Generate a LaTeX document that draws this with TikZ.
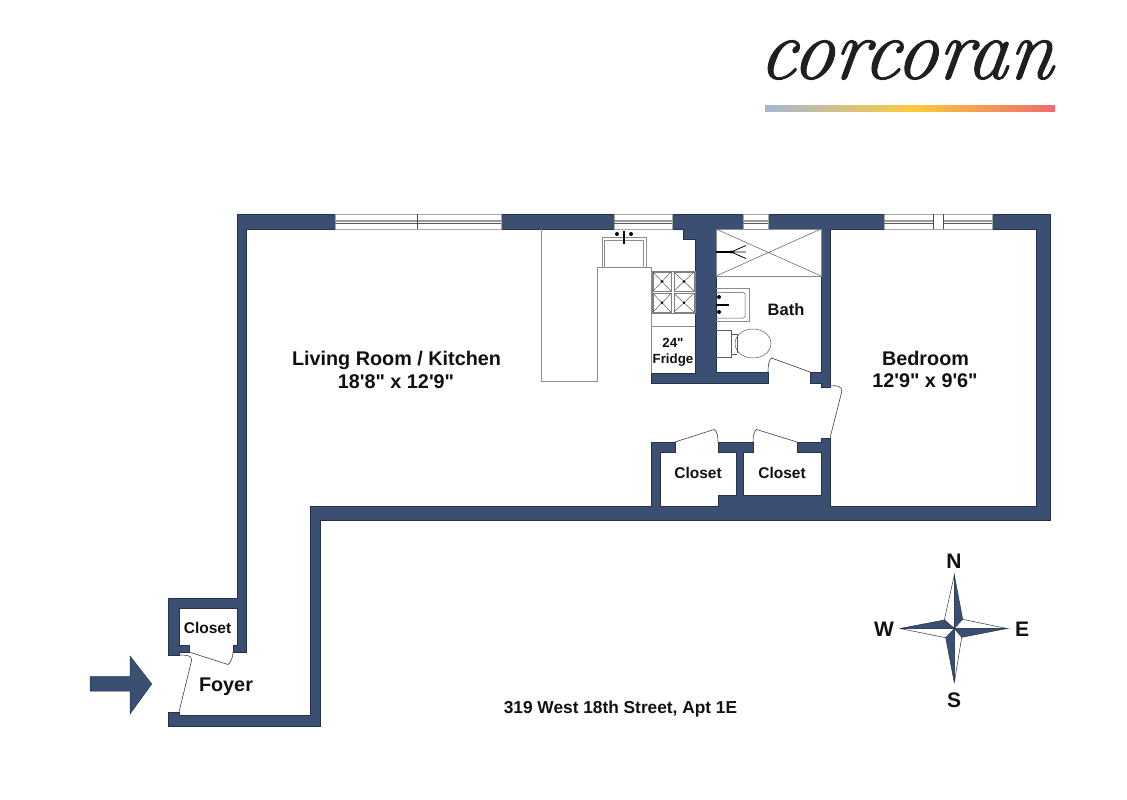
\documentclass[tikz,border=0pt]{standalone}
\usepackage{fontspec}
\setmainfont{Liberation Sans}[Ligatures=TeXOff]
\newfontfamily\logofont{Latin Modern Roman}[ItalicFeatures={FakeBold=1.2}]
\definecolor{wallc}{HTML}{3B4F72}
\definecolor{walle}{HTML}{24324C}
\definecolor{fixt}{HTML}{8C8C8C}
\definecolor{txt}{HTML}{111111}
\definecolor{barA}{HTML}{A6B7D2}
\definecolor{barB}{HTML}{FBCB3C}
\definecolor{barC}{HTML}{EE6A70}
\tikzset{
  wall/.style={fill=wallc,draw=walle,line width=0.5pt,line join=miter},
  doorline/.style={draw=black!75,line width=0.6pt},
  fixture/.style={draw=fixt,line width=1pt},
  thinfix/.style={draw=black!65,line width=0.5pt},
  label/.style={font=\bfseries\fontsize{#1}{#1}\selectfont,text=txt,inner sep=0pt,align=center,anchor=base},
  winframe/.style={fill=white,draw=black!35,line width=1pt},
  glassA/.style={draw=black!40,line width=1pt},
  glassB/.style={draw=black!65,line width=0.8pt},
  mull/.style={draw=black!70,line width=0.7pt},
  burner/.style={draw=black!50,line width=0.9pt},
  solidpt/.style={fill=black,draw=none},
  compassfill/.style={fill=wallc,draw=walle,line width=0.5pt,line join=miter},
  compassopen/.style={fill=white,draw=walle,line width=0.5pt,line join=miter},
}
\begin{document}
\begin{tikzpicture}[x=1pt,y=-1pt]
\useasboundingbox (0,0) rectangle (1127,800);
\fill[white] (0,0) rectangle (1127,800);

% logo
\node[inner sep=0pt,text=black!88,anchor=center,xscale=0.945,yscale=1.0,xslant=0.14] (logo) at (907,60)
  {\logofont\itshape\fontsize{87}{87}\selectfont corcoran};
\shade[left color=barA,right color=barB] (765,105) rectangle (911,111);
\shade[left color=barB,right color=barC] (911,105) rectangle (1055,111);

% walls: one outline
\path[wall] (168,726)--(320,726)--(320,520)--(1050,520)--(1050,214)--(237,214)--(237,598)--(168,598)
 --(168,655)--(179,655)--(179,652)--(189,652)--(189,645)--(179,645)--(179,608)--(237,608)--(237,645)
 --(233,645)--(233,652)--(246,652)--(246,229)--(683,229)--(683,239)--(695,239)--(695,373)--(651,373)
 --(651,383)--(768,383)--(768,372)--(716,372)--(716,229)--(821,229)--(821,372)--(810,372)--(810,383)
 --(821,383)--(821,387)--(830,387)--(830,229)--(1036,229)--(1036,506)--(830,506)--(830,438)--(821,438)
 --(821,442)--(797,442)--(797,452)--(821,452)--(821,495)--(743,495)--(743,452)--(753,452)--(753,442)
 --(718,442)--(718,452)--(736,452)--(736,495)--(718,495)--(718,506)--(660,506)--(660,452)--(675,452)
 --(675,442)--(651,442)--(651,506)--(310,506)--(310,715)--(179,715)--(179,712)--(168,712)--cycle;

% windows
\path[winframe] (335,214) rectangle (501,229);
\draw[glassA] (335,220)--(501,220) (335,221.8)--(501,221.8);
\draw[glassB] (335,223.6)--(501,223.6);
\draw[mull] (417.5,214)--(417.5,229);

\path[winframe] (614,214) rectangle (672,229);
\draw[glassA] (614,220)--(672,220) (614,221.8)--(672,221.8);
\draw[glassB] (614,223.6)--(672,223.6);

\path[winframe] (743,214) rectangle (768,229);
\draw[glassA] (743,220)--(768,220) (743,221.8)--(768,221.8);
\draw[glassB] (743,223.6)--(768,223.6);

\path[winframe] (884,214) rectangle (992,229);
\draw[glassA] (884,220)--(933,220) (884,221.8)--(933,221.8) (943,220)--(992,220) (943,221.8)--(992,221.8);
\draw[glassB] (884,223.6)--(933,223.6) (943,223.6)--(992,223.6);
\draw[mull] (933,214)--(933,229) (943.5,214)--(943.5,229);

% kitchen counter
\draw[fixture] (541.7,229)--(541.7,381)--(597,381)--(597,267)--(651,267)--(651,373);
% sink
\draw[fixture] (602,237) rectangle (646,267);
\draw[fixture] (604.5,240) rectangle (643.5,267);
\fill[solidpt] (617,234) circle (2) (631,234) circle (2);
\draw[black,line width=1.3pt] (624,231)--(624,244);
% stove
\draw[burner] (652,271) rectangle (695,313);
\foreach \xa/\xb/\ya/\yb in {653/671/272/291, 674/694/272/291, 653/671/293.5/312, 674/694/293.5/312}{
  \draw[burner] (\xa,\ya) rectangle (\xb,\yb);
  \draw[thinfix] (\xa,\ya)--(\xb,\yb) (\xa,\yb)--(\xb,\ya);
  \fill[solidpt] ({(\xa+\xb)/2},{(\ya+\yb)/2}) circle (1.4);
}
\draw[fixture] (651,326.5)--(695,326.5);

% shower
\draw[fixture] (716,229) rectangle (821,276);
\draw[thinfix] (716,229)--(821,276) (716,276)--(821,229);
\draw[black,line width=1.4pt] (716,252)--(731,252);
\fill[solidpt] (731,252) circle (1.7);
\draw[black,line width=0.8pt] (746,245.5)--(731,252)--(746,252) (731,252)--(746,258.5);
% bath sink
\draw[fixture] (716,288.5)--(749,288.5)--(749,321)--(716,321);
\draw[thinfix,rounded corners=1.5pt] (716,292.5)--(745,292.5)--(745,318)--(716,318);
\fill[solidpt] (719,297) circle (2) (719,312) circle (2);
\draw[black,line width=1.3pt] (716,305)--(729,305);
% toilet
\draw[thinfix] (716,330.5)--(731,330.5)--(731,357)--(716,357);
\draw[thinfix] (731,334)--(737,334) (731,354)--(737,354);
\draw[thinfix,fill=white] (753,343.5) ellipse (18 and 14.5);
\draw[thinfix] (737,334)--(737,353);

% doors
\draw[doorline] (810,372)--(771.5,358) .. controls (769,360) and (768,365) .. (768,372);
\draw[doorline] (830,386) .. controls (836,385) and (843,386) .. (841.7,392)--(830,438);
\draw[doorline] (675,442)--(714,429.5) .. controls (717,431) and (718,436) .. (718,442);
\draw[doorline] (797,442)--(756.5,429.5) .. controls (754,431) and (753,436) .. (753,442);
\draw[doorline] (189,652)--(228,664.5) .. controls (231,662) and (233,657) .. (233,652);
\draw[doorline] (179,655) .. controls (185,655) and (192,655) .. (191.7,660)--(179,712);

% entry arrow
\path[wall] (90,676.7)--(130,676.7)--(130,656)--(151.7,684)--(130,714)--(130,691)--(90,691)--cycle;

% compass
\path[compassopen] (954.3,575)--(944.3,620)--(954.3,628.5)--cycle;
\path[compassfill] (954.3,575)--(962.7,619.3)--(954.3,628.5)--cycle;
\path[compassopen] (1007,628.5)--(962.7,619.3)--(954.3,628.5)--cycle;
\path[compassfill] (1007,628.5)--(961.7,637.3)--(954.3,628.5)--cycle;
\path[compassopen] (954.3,682.7)--(961.7,637.3)--(954.3,628.5)--cycle;
\path[compassfill] (954.3,682.7)--(945.7,637.7)--(954.3,628.5)--cycle;
\path[compassopen] (900,628.5)--(945.7,637.7)--(954.3,628.5)--cycle;
\path[compassfill] (900,628.5)--(944.3,620)--(954.3,628.5)--cycle;
\node[label=21] (north) at (954,568) {N};
\node[label=21] (south) at (954,707) {S};
\node[label=21] (west) at (884,636) {W};
\node[label=21] (east) at (1022,636) {E};

% labels
\node[label=19.8] (living) at (396.5,365) {Living Room / Kitchen};
\node[label=19.8] (livingdim) at (396,388) {18'8" x 12'9"};
\node[label=19.8] (bedroom) at (925.5,365) {Bedroom};
\node[label=19.8] (bedroomdim) at (925,387) {12'9" x 9'6"};
\node[label=16.5] (bath) at (786,315) {Bath};
\node[label=13.3] (fridgea) at (673,347) {24"};
\node[label=13.3] (fridgeb) at (673,363) {Fridge};
\node[label=15.5] (closeta) at (698,478) {Closet};
\node[label=15.5] (closetb) at (782,478) {Closet};
\node[label=15.5] (closetc) at (207.5,633) {Closet};
\node[label=19.8] (foyer) at (226,691) {Foyer};
\node[label=17.3] (address) at (620.5,713) {319 West 18th Street, Apt 1E};
\end{tikzpicture}
\end{document}
